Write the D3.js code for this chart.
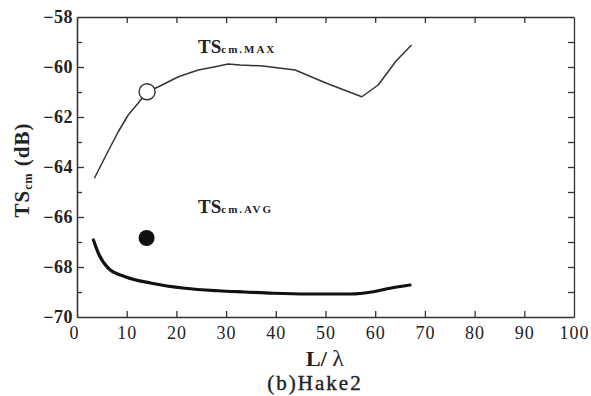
<!DOCTYPE html>
<html>
<head>
<meta charset="utf-8">
<script src="https://cdn.jsdelivr.net/npm/d3@7"></script>
<style>
  html, body { margin: 0; padding: 0; background: #fff; }
  svg { display: block; }
  svg text { font-family: "Liberation Serif", "DejaVu Serif", serif; }
  .axis line, .axis path { stroke: #333; stroke-width: 1.3; }
</style>
</head>
<body>
<div id="chart"></div>
<script>
// TS_cm.MAX curve (L/lambda, dB)
const maxL  = [3.5, 6.2, 8.3, 10.3, 12.3, 14.1, 16.4, 20.4, 24.4, 27.8, 30.4, 32.8, 37.4, 43.9, 50.2, 57.3, 60.6, 64.2, 67.3];
const maxTS = [-64.45, -63.39, -62.59, -61.92, -61.45, -60.99, -60.79, -60.39, -60.12, -59.99, -59.88, -59.92, -59.96, -60.12, -60.65, -61.19, -60.72, -59.76, -59.12];

// TS_cm.AVG curve
const avgL  = [3.3, 4.3, 6.3, 9.7, 15.0, 21.7, 28.4, 33.8, 39.5, 46.2, 54.9, 59.6, 63.0, 67.0];
const avgTS = [-66.92, -67.45, -68.05, -68.39, -68.65, -68.85, -68.95, -69.0, -69.05, -69.08, -69.08, -68.99, -68.85, -68.72];

// single markers
const openMarker   = [14.1, -60.99];
const filledMarker = [14.0, -66.84];

// ticks
const xTicks      = [0, 10, 20, 30, 40, 50, 60, 70, 80, 90, 100];
const xInnerTicks = [10, 20, 30, 40, 50, 60, 70, 80, 90];
const yMajor      = [-58, -60, -62, -64, -66, -68, -70];
const yMinor      = [-59, -61, -63, -65, -67, -69];
const yAll        = [-59, -60, -61, -62, -63, -64, -65, -66, -67, -68, -69];

const width = 591, height = 396;
const margin = { top: 17, right: 17, bottom: 79, left: 77 };
const innerWidth = width - margin.left - margin.right;
const innerHeight = height - margin.top - margin.bottom;

const svg = d3.select('#chart').append('svg')
  .attr('width', width)
  .attr('height', height);

const g = svg.append('g')
  .attr('transform', `translate(${margin.left},${margin.top})`);

const x = d3.scaleLinear().domain([0, 100]).range([0, innerWidth]);
const y = d3.scaleLinear().domain([-70, -58]).range([innerHeight, 0]);

// Bottom axis
const bottomAxis = g.append('g')
  .attr('class', 'axis')
  .attr('transform', `translate(0,${innerHeight})`)
  .call(d3.axisBottom(x).tickValues(xTicks).tickSizeInner(-6).tickSizeOuter(0).tickPadding(9));
bottomAxis.attr('font-family', null);
bottomAxis.selectAll('text')
  .style('font-size', '18px')
  .style('letter-spacing', '1px')
  .attr('fill', '#222')
  .attr('dx', (d) => d === 0 ? -3 : 0);
bottomAxis.selectAll('.tick').filter(d => d === 0 || d === 100).select('line').remove();

// Top axis
const topAxis = g.append('g')
  .attr('class', 'axis')
  .call(d3.axisTop(x).tickValues(xInnerTicks).tickSizeInner(-6).tickSizeOuter(0));
topAxis.selectAll('text').remove();

// Left axis, major ticks with labels
const leftAxis = g.append('g')
  .attr('class', 'axis')
  .call(d3.axisLeft(y).tickValues(yMajor).tickSizeInner(-7).tickSizeOuter(0).tickPadding(4));
leftAxis.attr('font-family', null);
leftAxis.selectAll('text')
  .style('font-size', '18px')
  .style('font-weight', 'bold')
  .style('letter-spacing', '0.5px')
  .attr('fill', '#222');
leftAxis.selectAll('.tick').filter(d => d === -58 || d === -70).select('line').remove();

// Left axis, minor ticks
const leftMinor = g.append('g')
  .attr('class', 'axis')
  .call(d3.axisLeft(y).tickValues(yMinor).tickSizeInner(-5).tickSizeOuter(0));
leftMinor.selectAll('text').remove();

// Right axis
const rightAxis = g.append('g')
  .attr('class', 'axis')
  .attr('transform', `translate(${innerWidth},0)`)
  .call(d3.axisRight(y).tickValues(yAll).tickSizeInner(-6).tickSizeOuter(0));
rightAxis.selectAll('text').remove();

// Curves
const maxLine = d3.line()
  .x((d, i) => x(maxL[i]))
  .y((d, i) => y(maxTS[i]))
  .curve(d3.curveLinear);

g.append('path')
  .datum(maxTS)
  .attr('d', maxLine)
  .attr('fill', 'none')
  .attr('stroke', '#333')
  .attr('stroke-width', 1.5)
  .attr('stroke-linejoin', 'round');

const avgLine = d3.line()
  .x((d, i) => x(avgL[i]))
  .y((d, i) => y(avgTS[i]))
  .curve(d3.curveMonotoneX);

g.append('path')
  .datum(avgTS)
  .attr('d', avgLine)
  .attr('fill', 'none')
  .attr('stroke', '#111')
  .attr('stroke-width', 3.2)
  .attr('stroke-linecap', 'round');

// Markers
g.append('circle')
  .attr('cx', x(openMarker[0]))
  .attr('cy', y(openMarker[1]))
  .attr('r', 8)
  .attr('fill', '#fff')
  .attr('stroke', '#333')
  .attr('stroke-width', 1.4);

g.append('circle')
  .attr('cx', x(filledMarker[0]))
  .attr('cy', y(filledMarker[1]))
  .attr('r', 8)
  .attr('fill', '#111');

// Series labels
function seriesLabel(px, py, sub) {
  const t = svg.append('text')
    .attr('x', px)
    .attr('y', py)
    .style('font-weight', 'bold')
    .attr('fill', '#222');
  t.append('tspan').style('font-size', '19px').text('TS');
  t.append('tspan').style('font-size', '11px').style('letter-spacing', '2px').text('cm.' + sub);
}
seriesLabel(198, 53, 'MAX');
seriesLabel(198, 213, 'AVG');

// Y axis title
const yTitle = svg.append('text')
  .attr('transform', 'translate(29,170) rotate(-90)')
  .attr('text-anchor', 'middle')
  .style('font-weight', 'bold')
  .style('letter-spacing', '1px')
  .attr('fill', '#222');
yTitle.append('tspan').style('font-size', '21px').text('TS');
yTitle.append('tspan').style('font-size', '12px').attr('dy', 3).text('cm');
yTitle.append('tspan').style('font-size', '21px').attr('dy', -3).text(' (dB)');

// X axis title
const xTitle = svg.append('text')
  .attr('x', 325)
  .attr('y', 366)
  .attr('text-anchor', 'middle')
  .style('font-size', '22px')
  .attr('fill', '#222');
xTitle.append('tspan').style('font-weight', 'bold').text('L/ ');
xTitle.append('tspan').style('font-size', '24px').text('λ');

svg.append('text')
  .attr('x', 315)
  .attr('y', 390)
  .attr('text-anchor', 'middle')
  .style('font-size', '21px')
  .style('letter-spacing', '2px')
  .attr('fill', '#222')
  .attr('stroke', '#222')
  .attr('stroke-width', 0.4)
  .text('(b)Hake2');
</script>
</body>
</html>
